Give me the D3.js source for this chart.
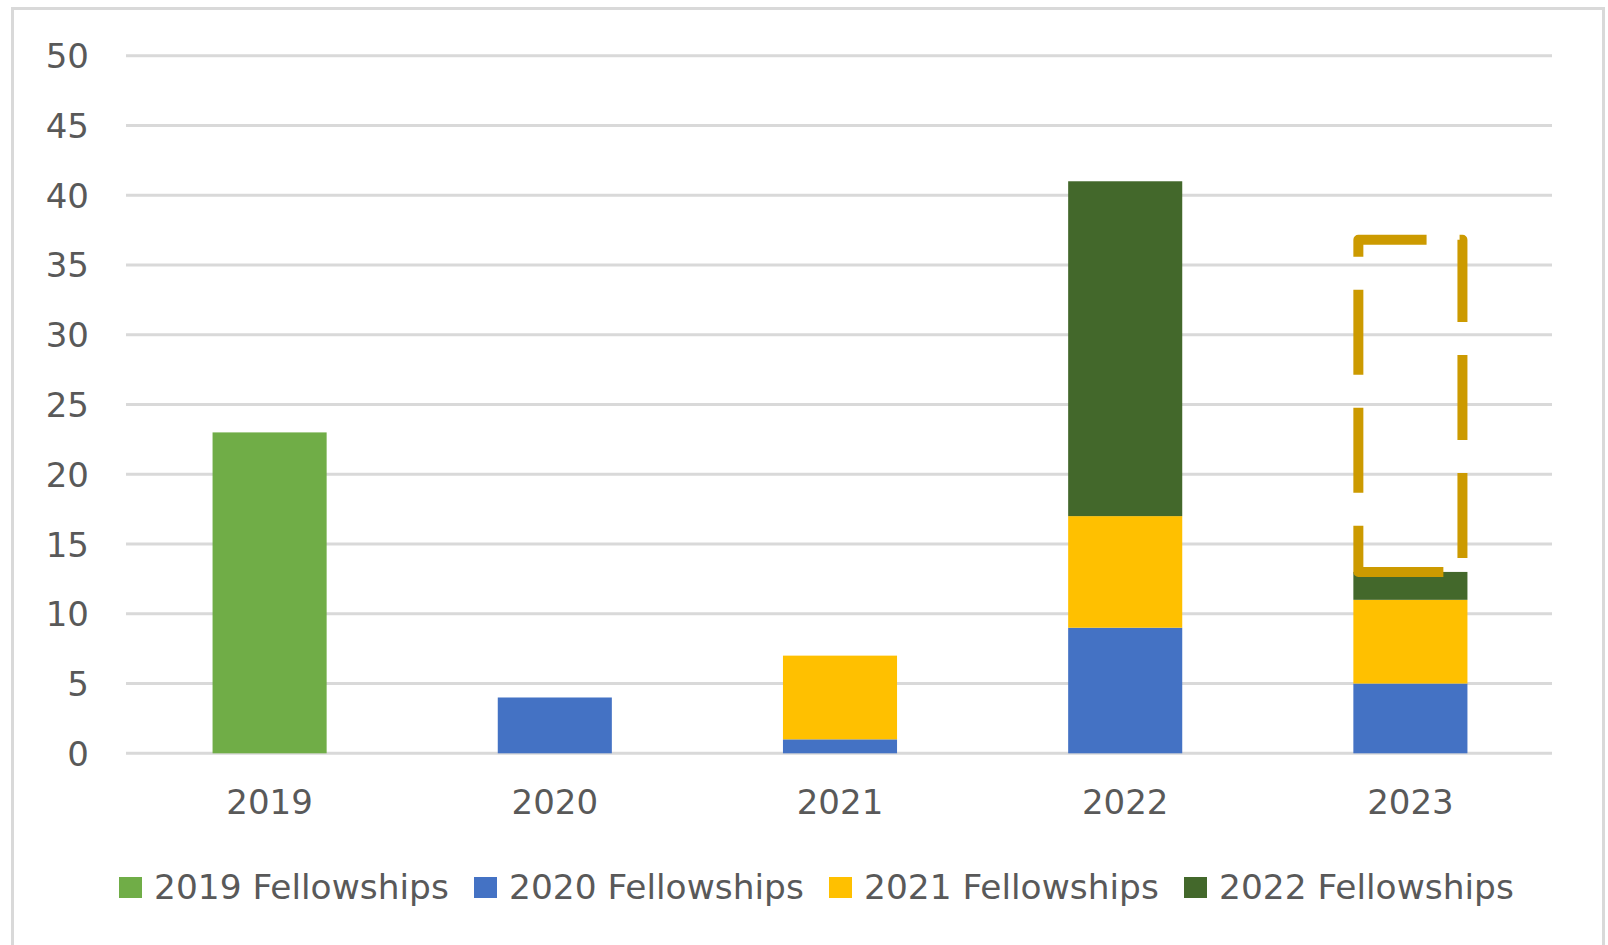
<!DOCTYPE html>
<html><head><meta charset="utf-8">
<script src="https://cdn.jsdelivr.net/npm/d3@7"></script>
<style>html,body{margin:0;padding:0;background:#fff;}svg{display:block;}</style>
</head><body>
<svg id="chart" width="1608" height="945"></svg>
<script>
const years = ["2019","2020","2021","2022","2023"];
const seriesNames = ["2019 Fellowships","2020 Fellowships","2021 Fellowships","2022 Fellowships"];
const s2019 = [23, 0, 0, 0, 0];
const s2020 = [0, 4, 1, 9, 5];
const s2021 = [0, 0, 6, 8, 6];
const s2022 = [0, 0, 0, 24, 2];
const seriesColors = ["#70AD47", "#4472C4", "#FFC000", "#43682B"];
const yTicks = [0, 5, 10, 15, 20, 25, 30, 35, 40, 45, 50];
const highlightYear = "2023";
const highlightRange = [13, 36.8];

const svg = d3.select("#chart");
const font = "'DejaVu Sans', sans-serif";
const textColor = "#595959";

// outer border
svg.append("rect").attr("x", 12.5).attr("y", 8.5).attr("width", 1591).attr("height", 960)
  .attr("fill", "none").attr("stroke", "#D9D9D9").attr("stroke-width", 3);

const x = d3.scaleBand().domain(years).range([127, 1553]).paddingInner(0.6).paddingOuter(0.3);
const y = d3.scaleLinear().domain([0, 50]).range([753.3, 55.7]);

// gridlines
svg.append("g").selectAll("line").data(yTicks).join("line")
  .attr("x1", 126).attr("x2", 1552)
  .attr("y1", d => y(d)).attr("y2", d => y(d))
  .attr("stroke", "#D9D9D9").attr("stroke-width", 3);

// y labels
svg.append("g").selectAll("text").data(yTicks).join("text")
  .attr("x", 89).attr("y", d => y(d) + 12.5)
  .attr("text-anchor", "end")
  .attr("font-family", font).attr("font-size", 34).attr("fill", textColor)
  .text(d => d);

// stacked data
const table = years.map((yr, i) => {
  const o = {year: yr};
  [s2019, s2020, s2021, s2022].forEach((arr, k) => o[seriesNames[k]] = arr[i]);
  return o;
});
const stacked = d3.stack().keys(seriesNames)(table);

svg.append("g").selectAll("g").data(stacked).join("g")
  .attr("fill", (d, i) => seriesColors[i])
  .selectAll("rect").data(d => d.filter(p => p[1] - p[0] > 0)).join("rect")
  .attr("x", d => x(d.data.year))
  .attr("width", x.bandwidth())
  .attr("y", d => y(d[1]))
  .attr("height", d => y(d[0]) - y(d[1]));

// x labels
svg.append("g").selectAll("text").data(years).join("text")
  .attr("x", d => x(d) + x.bandwidth() / 2).attr("y", 814)
  .attr("text-anchor", "middle")
  .attr("font-family", font).attr("font-size", 34).attr("fill", textColor)
  .text(d => d);

// dashed highlight box
const hx0 = x(highlightYear) + 5, hx1 = x(highlightYear) + x.bandwidth() - 5;
const hyb = y(highlightRange[0]), hyt = y(highlightRange[1]);
const p = d3.path();
p.moveTo(hx0, hyb); p.lineTo(hx1, hyb); p.lineTo(hx1, hyt); p.lineTo(hx0, hyt); p.closePath();
svg.append("path").attr("d", p.toString())
  .attr("fill", "none").attr("stroke", "#CC9A00").attr("stroke-width", 10)
  .attr("stroke-dasharray", "85 33").attr("stroke-linejoin", "round");

// legend
const lg = svg.append("g").selectAll("g").data(seriesNames).join("g")
  .attr("transform", (d, i) => `translate(${119 + i * 355},0)`);
lg.append("rect").attr("x", 0).attr("y", 877).attr("width", 23).attr("height", 21)
  .attr("fill", (d, i) => seriesColors[i]);
lg.append("text").attr("x", 35).attr("y", 899)
  .attr("font-family", font).attr("font-size", 34.4).attr("fill", textColor)
  .text(d => d);
</script>
</body></html>
